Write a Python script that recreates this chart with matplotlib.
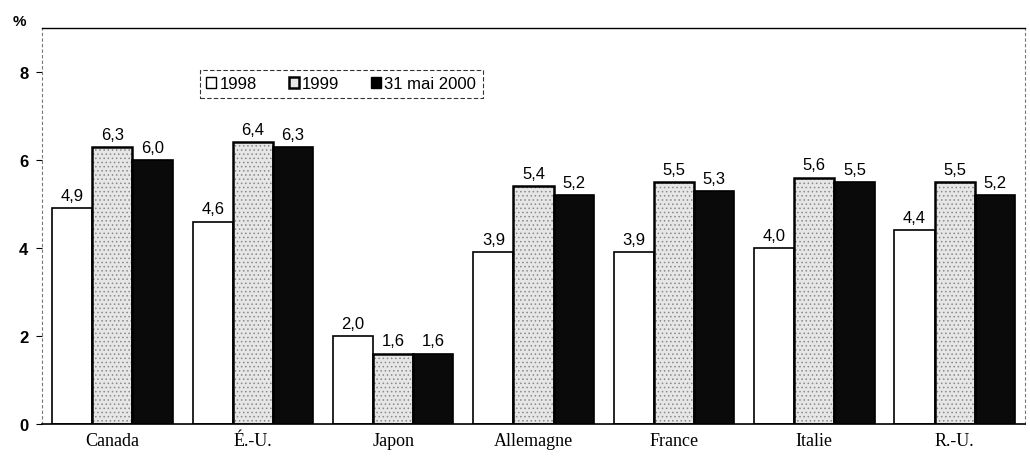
import matplotlib
matplotlib.use("Agg")
import matplotlib.pyplot as plt
import numpy as np
from matplotlib.patches import Patch

categories = ["Canada", "É.-U.", "Japon", "Allemagne", "France", "Italie", "R.-U."]
series_names = ["1998", "1999", "31 mai 2000"]
v1998 = [4.9, 4.6, 2.0, 3.9, 3.9, 4.0, 4.4]
v1999 = [6.3, 6.4, 1.6, 5.4, 5.5, 5.6, 5.5]
v2000 = [6.0, 6.3, 1.6, 5.2, 5.3, 5.5, 5.2]
yticks = [0, 2, 4, 6, 8]

plt.rcParams['font.family'] = ['Liberation Sans', 'DejaVu Sans']
plt.rcParams['hatch.linewidth'] = 0.6

fig = plt.figure(figsize=(10.3, 4.64), dpi=100)
ax = fig.add_axes([0.041, 0.084, 0.954, 0.8535])

x = np.arange(len(categories))
w = 0.286

# 1998: white
ax.bar(x - w, v1998, w, color="white", edgecolor="black", linewidth=1.2, zorder=2)
# 1999: speckled light gray
ax.bar(x, v1999, w, color="#e6e6e6", edgecolor="#8a8a8a", hatch="....", linewidth=0, zorder=2)
ax.bar(x, v1999, w, color="none", edgecolor="black", linewidth=1.8, zorder=3)
# 2000: black
ax.bar(x + w, v2000, w, color="#0a0a0a", edgecolor="black", linewidth=1.2, zorder=2)

def fmt(v):
    return f"{v:.1f}".replace(".", ",")

for xs, vals in ((x - w, v1998), (x, v1999), (x + w, v2000)):
    for xi, v in zip(xs, vals):
        ax.text(xi, v + 0.12, fmt(v), ha="center", va="bottom", fontsize=12)

ax.set_xlim(-0.5, 6.5)
ax.set_ylim(0, 9)
ax.set_yticks(yticks)
ax.set_yticklabels([str(t) for t in yticks], fontsize=12, fontweight="bold")
ax.set_xticks(x)
ax.set_xticklabels(categories, fontsize=13, family=["Liberation Serif", "DejaVu Serif"])
ax.tick_params(axis="x", length=0, pad=6)
ax.tick_params(axis="y", length=4, width=0.8, pad=6, direction="out")

for s in ("left", "right"):
    ax.spines[s].set_linestyle((0, (2, 3)))
    ax.spines[s].set_color("#777777")
    ax.spines[s].set_linewidth(0.8)
ax.spines["top"].set_linewidth(1.0)
ax.spines["bottom"].set_linewidth(1.2)

handles = [
    Patch(facecolor="white", edgecolor="black", linewidth=1.0),
    Patch(facecolor="#e6e6e6", edgecolor="black", linewidth=1.8),
    Patch(facecolor="black", edgecolor="black"),
]
leg = fig.legend(handles, series_names, loc="upper left", bbox_to_anchor=(0.194, 0.848),
                 ncol=3, fontsize=12, frameon=True, fancybox=False, edgecolor="black",
                 handlelength=0.6, handleheight=0.7, handletextpad=0.2, columnspacing=1.9,
                 borderpad=0.4, borderaxespad=0)
leg.get_frame().set_linewidth(0.8)
leg.get_frame().set_linestyle((0, (4, 2)))

fig.text(0.012, 0.952, "%", fontsize=11, fontweight="bold", ha="left", va="center")

fig.savefig("out.png", dpi=100)
